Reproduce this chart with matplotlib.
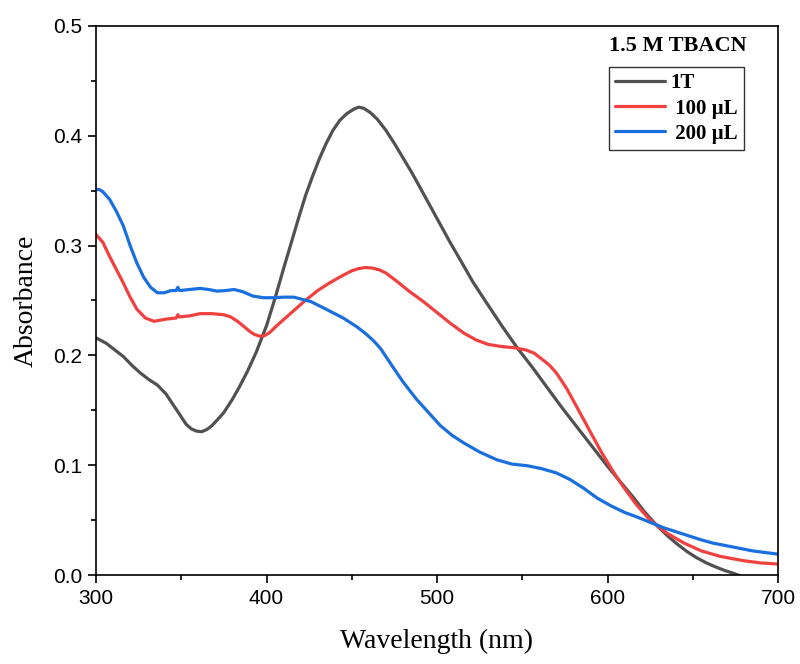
import matplotlib
matplotlib.use("Agg")
import matplotlib.pyplot as plt
from matplotlib.ticker import MultipleLocator

# 1T
wl_1t = [300, 306, 311, 316, 321, 326, 331, 336, 341, 344, 347, 350, 353, 356, 359, 362, 365,
         368, 371, 375, 380, 384, 389, 394, 400, 405, 410, 415, 419, 423, 427, 431, 435, 439,
         443, 447, 451, 454, 457, 461, 465, 470, 475, 480, 485, 490, 496, 502, 508, 514, 521,
         529, 538, 547, 556, 564, 573, 582, 591, 600, 608, 615, 622, 629, 635, 641, 647, 652,
         658, 664, 669, 674, 680]
abs_1t = [0.216, 0.211, 0.205, 0.199, 0.191, 0.184, 0.178, 0.173, 0.165, 0.158, 0.151, 0.144,
          0.137, 0.133, 0.131, 0.1305, 0.1325, 0.136, 0.141, 0.148, 0.160, 0.171, 0.186, 0.203,
          0.227, 0.252, 0.279, 0.305, 0.326, 0.346, 0.363, 0.379, 0.393, 0.405, 0.414, 0.420,
          0.424, 0.426, 0.425, 0.421, 0.415, 0.405, 0.393, 0.380, 0.367, 0.353, 0.336, 0.319,
          0.302, 0.286, 0.267, 0.248, 0.227, 0.207, 0.189, 0.172, 0.153, 0.135, 0.117, 0.099,
          0.084, 0.071, 0.057, 0.045, 0.036, 0.028, 0.021, 0.016, 0.011, 0.007, 0.004, 0.0015,
          -0.002]

# 100 uL
wl_100 = [300, 304, 308, 312, 316, 320, 324, 329, 334, 341, 347, 348, 349, 355, 361, 368, 375,
          379, 383, 387, 390, 393, 396, 399, 402, 406, 414, 422, 430, 437, 445, 450, 454, 458,
          462, 466, 470, 476, 484, 492, 500, 508, 516, 523, 530, 538, 545, 552, 557, 562, 566,
          570, 576, 582, 589, 596, 603, 609, 617, 625, 635, 645, 655, 666, 680, 690, 700]
abs_100 = [0.310, 0.303, 0.290, 0.278, 0.266, 0.253, 0.242, 0.234, 0.231, 0.233, 0.234, 0.237,
           0.235, 0.236, 0.238, 0.238, 0.237, 0.235, 0.231, 0.226, 0.222, 0.219, 0.2175, 0.218,
           0.221, 0.227, 0.238, 0.249, 0.259, 0.266, 0.273, 0.277, 0.279, 0.280, 0.2795, 0.278,
           0.275, 0.268, 0.258, 0.249, 0.239, 0.229, 0.220, 0.214, 0.210, 0.208, 0.207, 0.205,
           0.202, 0.196, 0.191, 0.184, 0.170, 0.153, 0.133, 0.113, 0.095, 0.081, 0.064, 0.050,
           0.038, 0.029, 0.022, 0.017, 0.013, 0.011, 0.010]

# 200 uL
wl_200 = [300, 302, 304, 308, 312, 316, 320, 324, 328, 332, 336, 340, 344, 347, 348, 349, 355,
          361, 366, 371, 376, 381, 386, 392, 398, 404, 410, 416, 421, 426, 435, 445, 453, 458,
          463, 467, 473, 480, 488, 495, 502, 509, 516, 525, 535, 544, 553, 561, 570, 578, 586,
          594, 602, 610, 617, 625, 633, 645, 655, 662, 672, 685, 700]
abs_200 = [0.351, 0.351, 0.349, 0.342, 0.331, 0.318, 0.300, 0.284, 0.271, 0.262, 0.257, 0.257,
           0.259, 0.259, 0.262, 0.259, 0.260, 0.261, 0.260, 0.2585, 0.259, 0.260, 0.258, 0.254,
           0.2525, 0.2525, 0.253, 0.253, 0.251, 0.249, 0.242, 0.234, 0.226, 0.220, 0.213, 0.206,
           0.192, 0.176, 0.160, 0.148, 0.136, 0.127, 0.120, 0.112, 0.105, 0.101, 0.0995, 0.097,
           0.093, 0.087, 0.079, 0.070, 0.063, 0.057, 0.053, 0.048, 0.043, 0.037, 0.032, 0.029,
           0.026, 0.022, 0.019]

series = [
    (wl_1t, abs_1t, "1T", "#515151"),
    (wl_100, abs_100, " 100 \u00b5L", "#F14040"),
    (wl_200, abs_200, " 200 \u00b5L", "#1A6FDF"),
]

fig = plt.figure(figsize=(8, 6.64), dpi=100)
ax = fig.add_axes([0.12, 0.134, 0.8525, 0.827])

for x, y, lab, col in series:
    ax.plot(x, y, color=col, lw=2.3, label=lab, solid_capstyle="round", solid_joinstyle="round")

ax.set_xlim(300, 700)
ax.set_ylim(0, 0.5)
ax.xaxis.set_major_locator(MultipleLocator(100))
ax.xaxis.set_minor_locator(MultipleLocator(50))
ax.yaxis.set_major_locator(MultipleLocator(0.1))
ax.yaxis.set_minor_locator(MultipleLocator(0.05))
ax.tick_params(which="both", direction="out", top=False, right=False, width=1.2)
ax.tick_params(which="major", length=6, labelsize=15, pad=4)
ax.tick_params(which="minor", length=3.5)
for lbl in ax.get_xticklabels() + ax.get_yticklabels():
    lbl.set_fontfamily("Liberation Sans")
for sp in ax.spines.values():
    sp.set_linewidth(1.2)

ax.set_xlabel("Wavelength (nm)", fontsize=20, family="Liberation Serif", labelpad=15)
ax.set_ylabel("Absorbance", fontsize=20, family="Liberation Serif", labelpad=10)

ax.text(0.853, 0.9635, "1.5 M TBACN", transform=ax.transAxes, ha="center", va="center",
        fontsize=16, fontweight="bold", family="Liberation Serif")
leg = ax.legend(loc="upper left", bbox_to_anchor=(0.752, 0.925), borderaxespad=0,
                prop={"family": "Liberation Serif", "weight": "bold", "size": 15},
                frameon=True, fancybox=False, edgecolor="black", handlelength=2.4,
                handletextpad=0.25, labelspacing=0.25, borderpad=0.3)
leg.get_frame().set_linewidth(1.0)

fig.savefig("out.png", dpi=100)
